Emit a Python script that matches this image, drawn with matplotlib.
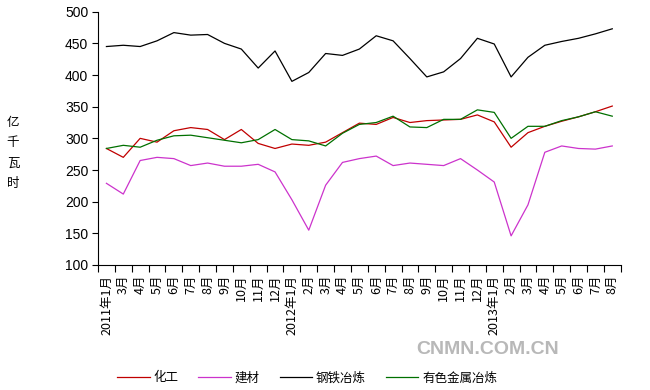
import matplotlib
matplotlib.use("Agg")
import matplotlib.pyplot as plt
import numpy as np

plt.rcParams['font.family'] = ['Noto Sans CJK SC', 'DejaVu Sans']

labels = ["2011年1月", "3月", "4月", "5月", "6月", "7月", "8月", "9月", "10月", "11月", "12月",
          "2012年1月", "2月", "3月", "4月", "5月", "6月", "7月", "8月", "9月", "10月", "11月", "12月",
          "2013年1月", "2月", "3月", "4月", "5月", "6月", "7月", "8月"]

chem = [284, 270, 300, 294, 312, 317, 314, 298, 314, 292, 284, 291, 289, 294, 309, 324,
        322, 333, 325, 328, 329, 330, 337, 326, 286, 309, 319, 327, 334, 342, 351]
build = [229, 212, 265, 270, 268, 257, 261, 256, 256, 259, 247, 203, 155, 226, 262, 268,
         272, 257, 261, 259, 257, 268, 250, 231, 146, 195, 278, 288, 284, 283, 288]
steel = [445, 447, 445, 454, 467, 463, 464, 450, 441, 411, 438, 390, 404, 434, 431, 441,
         462, 454, 426, 397, 405, 426, 458, 449, 397, 428, 447, 453, 458, 465, 473]
nonferrous = [284, 289, 286, 297, 304, 305, 301, 297, 293, 298, 314, 298, 296, 288, 308, 322,
              325, 335, 318, 317, 330, 330, 345, 341, 300, 319, 319, 328, 334, 342, 335]

series_names = ["化工", "建材", "钢铁冶炼", "有色金属冶炼"]
colors = ["#C00000", "#CC33CC", "#000000", "#007000"]

fig = plt.figure(figsize=(6.5, 3.9), dpi=100)
ax = fig.add_axes([98/650, 1-265/390, 522.7/650, (265-11.7)/390])

x = np.arange(len(labels))
for data, name, c in zip([chem, build, steel, nonferrous], series_names, colors):
    ax.plot(x, data, color=c, lw=0.9, label=name)

ax.set_xlim(-0.5, len(labels)-0.5)
ax.set_ylim(100, 500)
ax.set_yticks(np.arange(100, 501, 50))
ax.tick_params(axis='y', direction='out', length=4, width=0.8, labelsize=10, pad=3)
for t in ax.get_yticklabels():
    t.set_family(['Liberation Sans'])

ax.set_xticks(np.arange(-0.5, len(labels), 1.0))
ax.set_xticklabels([])
ax.tick_params(axis='x', which='major', direction='out', length=5, width=0.8)
ax.set_xticks(x, minor=True)
ax.set_xticklabels(labels, minor=True, rotation=90, fontsize=9, va='top', ha='center')
ax.tick_params(axis='x', which='minor', length=0, pad=7)

for s in ['top', 'right']:
    ax.spines[s].set_visible(False)
for s in ['left', 'bottom']:
    ax.spines[s].set_linewidth(0.8)

fig.text(13/650, 1-153/390, "亿\n千\n瓦\n时", fontsize=9, ha='center', va='center', linespacing=1.75)

fig.legend(loc='center', bbox_to_anchor=(307/650, 1-378/390), ncol=4, frameon=False,
           fontsize=9, handlelength=2.6, handletextpad=0.3, columnspacing=1.6)

fig.text(488/650, 1-350/390, "CNMN.COM.CN", fontsize=14, fontweight='bold', color='#b8b8b8',
         ha='center', va='center', family=['Liberation Sans'])

fig.savefig("out.png", dpi=100)
